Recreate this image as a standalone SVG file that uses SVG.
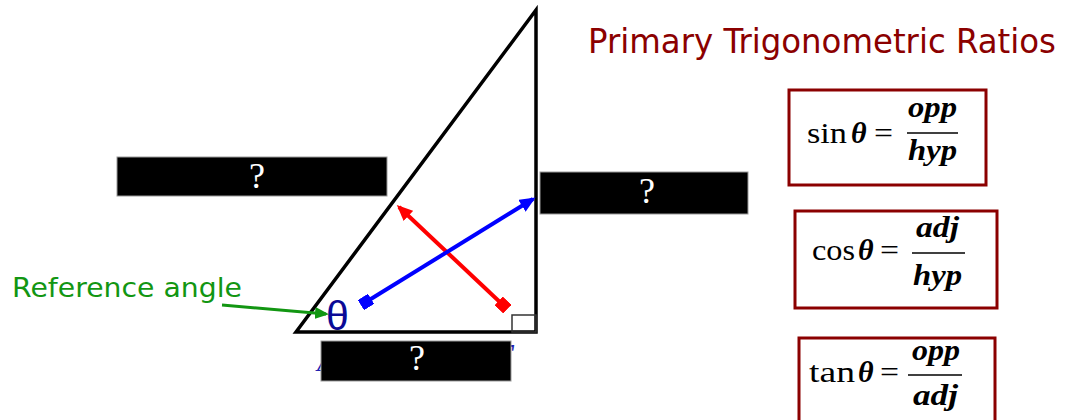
<svg xmlns="http://www.w3.org/2000/svg" width="1069" height="420" viewBox="0 0 1069 420">
<style>
.hand{font-family:"DejaVu Sans","Open Sans",sans-serif}
.q{font-family:"Liberation Serif",serif;font-size:36px;fill:#fff;text-anchor:middle}
.mask{fill:#000;stroke:#999;stroke-width:1}
.fbox{fill:#fff;stroke:#8b0000;stroke-width:3}
.m{font-family:"Liberation Serif",serif;font-size:30px;fill:#000}
.mi{font-family:"Liberation Serif",serif;font-size:30px;fill:#000;font-style:italic;font-weight:bold}
.frac{stroke:#000;stroke-width:1.5}
</style>
<defs>
<marker id="ahR" markerUnits="userSpaceOnUse" markerWidth="16" markerHeight="14" refX="13" refY="7" orient="auto"><path d="M0,0 L16,7 L0,14 z" fill="#ff0000"/></marker>
<marker id="sqR" markerUnits="userSpaceOnUse" markerWidth="12" markerHeight="12" refX="6" refY="6" orient="auto"><rect x="0" y="0" width="12" height="12" fill="#ff0000"/></marker>
<marker id="ahB" markerUnits="userSpaceOnUse" markerWidth="16" markerHeight="14" refX="13" refY="7" orient="auto"><path d="M0,0 L16,7 L0,14 z" fill="#0000ff"/></marker>
<marker id="sqB" markerUnits="userSpaceOnUse" markerWidth="12" markerHeight="12" refX="6" refY="6" orient="auto"><rect x="0" y="0" width="12" height="12" fill="#0000ff"/></marker>
<marker id="ahG" markerUnits="userSpaceOnUse" markerWidth="14" markerHeight="12" refX="11" refY="6" orient="auto"><path d="M0,0 L14,6 L0,12 z" fill="#129612"/></marker>
</defs>
<rect width="1069" height="420" fill="#fff"/>

<g id="triangle">
<path d="M296,332 L536,10 L536,332 Z" fill="none" stroke="#000" stroke-width="3.5" stroke-linejoin="miter"/>
<rect x="512" y="315" width="24" height="17" fill="none" stroke="#333" stroke-width="1.5"/>
</g>

<g id="theta">
<text x="326" y="330" font-family="Liberation Sans,sans-serif" font-size="41" fill="#0a0a96">θ</text>
</g>

<g id="adjacent-label-fragments">
<text x="317" y="371" font-family="Liberation Serif,serif" font-style="italic" font-size="30" fill="#2020b0">A</text>
<text x="492" y="369" font-family="Liberation Serif,serif" font-style="italic" font-size="36" fill="#2020b0">T</text>
</g>

<g id="connectors">
<line x1="503" y1="305" x2="399" y2="207" stroke="#ff0000" stroke-width="4" marker-start="url(#sqR)" marker-end="url(#ahR)"/>
<line x1="366" y1="302" x2="533" y2="199" stroke="#0000ff" stroke-width="4" marker-start="url(#sqB)" marker-end="url(#ahB)"/>
<line x1="222" y1="305" x2="326" y2="314" stroke="#129612" stroke-width="3" marker-end="url(#ahG)"/>
</g>

<g id="mask-left">
<rect class="mask" x="117" y="157" width="270" height="39"/>
<text class="q" x="257" y="188">?</text>
</g>
<g id="mask-right">
<rect class="mask" x="540" y="172" width="208" height="42"/>
<text class="q" x="647" y="203">?</text>
</g>
<g id="mask-bottom">
<rect class="mask" x="321" y="341" width="190" height="40"/>
<text class="q" x="417" y="370">?</text>
</g>

<g id="reference-label">
<text class="hand" x="12" y="297" font-size="27" fill="#129612" textLength="230" lengthAdjust="spacingAndGlyphs">Reference angle</text>
</g>

<g id="title">
<text class="hand" x="588" y="53" font-size="33" fill="#8b0000" textLength="468" lengthAdjust="spacingAndGlyphs">Primary Trigonometric Ratios</text>
</g>

<g id="sin-box">
<rect class="fbox" x="789" y="90" width="197" height="95"/>
<text class="m" x="807" y="143" textLength="40" lengthAdjust="spacingAndGlyphs">sin</text>
<text class="mi" x="851" y="143">θ</text>
<text class="m" x="874" y="143" textLength="19" lengthAdjust="spacingAndGlyphs">=</text>
<text class="mi" x="908" y="117" textLength="49" lengthAdjust="spacingAndGlyphs">opp</text>
<line class="frac" x1="907" y1="133" x2="958" y2="133"/>
<text class="mi" x="908" y="160" textLength="49" lengthAdjust="spacingAndGlyphs">hyp</text>
</g>

<g id="cos-box">
<rect class="fbox" x="795" y="211" width="202" height="97"/>
<text class="m" x="812" y="260" textLength="43" lengthAdjust="spacingAndGlyphs">cos</text>
<text class="mi" x="858" y="260">θ</text>
<text class="m" x="880" y="260" textLength="19" lengthAdjust="spacingAndGlyphs">=</text>
<text class="mi" x="916" y="237" textLength="43" lengthAdjust="spacingAndGlyphs">adj</text>
<line class="frac" x1="912" y1="253" x2="965" y2="253"/>
<text class="mi" x="913" y="285" textLength="49" lengthAdjust="spacingAndGlyphs">hyp</text>
</g>

<g id="tan-box">
<rect class="fbox" x="799" y="338" width="196" height="90"/>
<text class="m" x="809" y="382" textLength="46" lengthAdjust="spacingAndGlyphs">tan</text>
<text class="mi" x="858" y="382">θ</text>
<text class="m" x="880" y="382" textLength="19" lengthAdjust="spacingAndGlyphs">=</text>
<text class="mi" x="912" y="360" textLength="48" lengthAdjust="spacingAndGlyphs">opp</text>
<line class="frac" x1="908" y1="375" x2="962" y2="375"/>
<text class="mi" x="913" y="405" textLength="45" lengthAdjust="spacingAndGlyphs">adj</text>
</g>
</svg>
